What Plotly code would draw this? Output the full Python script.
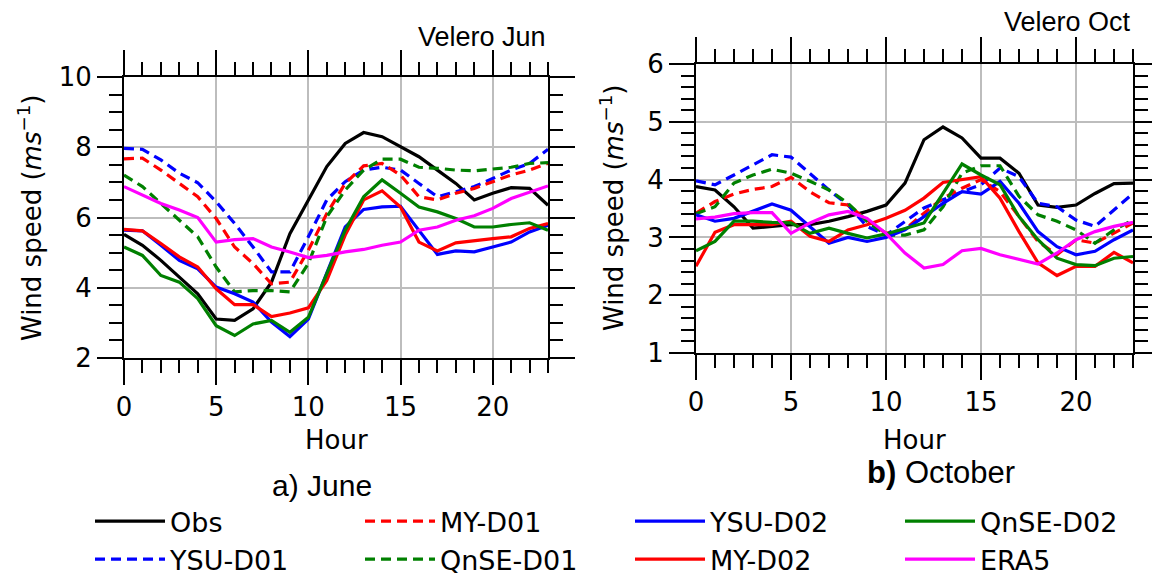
import plotly.graph_objects as go

W, H = 1152, 579
hours = list(range(24))

# ---- June (Velero Jun) ----
jun_obs = [5.52, 5.21, 4.78, 4.30, 3.83, 3.11, 3.07, 3.40, 4.16, 5.54, 6.50, 7.45,
           8.11, 8.42, 8.30, 8.02, 7.73, 7.35, 6.97, 6.50, 6.69, 6.85, 6.83, 6.35]
jun_ysu_d01 = [7.97, 7.94, 7.64, 7.26, 6.99, 6.45, 5.83, 5.16, 4.45, 4.45, 5.45, 6.50,
               7.02, 7.35, 7.43, 7.35, 6.97, 6.59, 6.73, 6.88, 7.11, 7.35, 7.54, 7.94]
jun_my_d01 = [7.67, 7.69, 7.35, 6.97, 6.59, 5.97, 5.16, 4.69, 4.11, 4.16, 5.07, 6.11,
              6.97, 7.47, 7.54, 7.21, 6.59, 6.50, 6.69, 6.83, 7.02, 7.21, 7.35, 7.54]
jun_qnse_d01 = [7.21, 6.88, 6.40, 5.92, 5.45, 4.59, 3.88, 3.92, 3.92, 3.88, 4.69, 6.02,
                6.78, 7.35, 7.66, 7.66, 7.43, 7.40, 7.35, 7.33, 7.37, 7.43, 7.54, 7.56]
jun_ysu_d02 = [5.64, 5.62, 5.21, 4.78, 4.54, 4.02, 3.83, 3.59, 3.02, 2.61, 3.11, 4.40,
               5.73, 6.23, 6.30, 6.32, 5.64, 4.95, 5.05, 5.02, 5.16, 5.30, 5.59, 5.78]
jun_my_d02 = [5.66, 5.62, 5.26, 4.88, 4.59, 3.97, 3.52, 3.52, 3.18, 3.28, 3.43, 4.21,
              5.50, 6.50, 6.76, 6.30, 5.30, 5.05, 5.28, 5.35, 5.40, 5.45, 5.69, 5.83]
jun_qnse_d02 = [5.16, 4.92, 4.35, 4.16, 3.69, 2.92, 2.64, 2.97, 3.07, 2.73, 3.16, 4.40,
                5.64, 6.59, 7.07, 6.69, 6.30, 6.16, 5.97, 5.73, 5.73, 5.80, 5.85, 5.64]
jun_era5 = [6.88, 6.64, 6.40, 6.21, 6.00, 5.30, 5.37, 5.40, 5.16, 5.02, 4.86, 4.92,
            5.02, 5.09, 5.21, 5.30, 5.64, 5.73, 5.92, 6.05, 6.26, 6.54, 6.73, 6.90]

# ---- October (Velero Oct) ----
oct_obs = [3.88, 3.82, 3.53, 3.16, 3.19, 3.22, 3.22, 3.28, 3.36, 3.45, 3.56, 3.94,
           4.69, 4.91, 4.72, 4.37, 4.37, 4.11, 3.56, 3.52, 3.56, 3.76, 3.93, 3.94]
oct_ysu_d01 = [3.98, 3.91, 4.08, 4.25, 4.43, 4.39, 4.11, 3.82, 3.56, 3.19, 3.04, 3.28,
               3.51, 3.65, 3.79, 3.91, 4.20, 4.05, 3.59, 3.53, 3.30, 3.19, 3.48, 3.76]
oct_my_d01 = [3.42, 3.62, 3.75, 3.83, 3.88, 4.04, 3.79, 3.60, 3.56, 3.30, 3.07, 3.14,
              3.42, 3.68, 3.85, 4.00, 3.79, 3.36, 2.93, 2.70, 2.96, 2.90, 3.07, 3.25]
oct_qnse_d01 = [3.41, 3.53, 3.94, 4.08, 4.18, 4.11, 3.97, 3.82, 3.59, 3.28, 3.04, 3.04,
                3.13, 3.53, 4.11, 4.24, 4.24, 3.71, 3.39, 3.28, 3.13, 2.90, 3.13, 3.30]
oct_ysu_d02 = [3.39, 3.28, 3.33, 3.45, 3.58, 3.47, 3.19, 2.90, 3.00, 2.93, 3.00, 3.13,
               3.36, 3.59, 3.79, 3.75, 3.97, 3.59, 3.10, 2.84, 2.70, 2.76, 2.96, 3.13]
oct_my_d02 = [2.50, 3.09, 3.22, 3.22, 3.22, 3.28, 3.02, 2.93, 3.13, 3.22, 3.33, 3.47,
              3.68, 3.95, 4.00, 4.05, 3.68, 3.10, 2.56, 2.34, 2.50, 2.50, 2.74, 2.56]
oct_qnse_d02 = [2.77, 2.93, 3.28, 3.28, 3.26, 3.25, 3.07, 3.16, 3.07, 2.99, 3.06, 3.16,
                3.25, 3.76, 4.27, 4.08, 3.91, 3.36, 2.96, 2.64, 2.53, 2.51, 2.64, 2.67]
oct_era5 = [3.32, 3.35, 3.41, 3.43, 3.43, 3.07, 3.25, 3.39, 3.45, 3.33, 3.07, 2.73,
            2.47, 2.53, 2.77, 2.81, 2.70, 2.62, 2.54, 2.73, 2.96, 3.10, 3.19, 3.26]

series_names = ["Obs", "YSU-D01", "MY-D01", "QnSE-D01", "YSU-D02", "MY-D02", "QnSE-D02", "ERA5"]
series_colors = ["black", "#0000ff", "#ff0000", "#008000", "#0000ff", "#ff0000", "#008000", "#ff00ff"]
series_dash = ["solid", "10px,6px", "10px,6px", "10px,6px", "solid", "solid", "solid", "solid"]
# legend rank: row-wise fill so that columns read like the reference
series_rank = [1, 5, 2, 6, 3, 7, 4, 8]
jun_data = [jun_obs, jun_ysu_d01, jun_my_d01, jun_qnse_d01, jun_ysu_d02, jun_my_d02, jun_qnse_d02, jun_era5]
oct_data = [oct_obs, oct_ysu_d01, oct_my_d01, oct_qnse_d01, oct_ysu_d02, oct_my_d02, oct_qnse_d02, oct_era5]

fig = go.Figure()
for name, col, dash, rank, yj, yo in zip(series_names, series_colors, series_dash, series_rank, jun_data, oct_data):
    fig.add_trace(go.Scatter(x=hours, y=yj, mode="lines", name=name, legendrank=rank,
                             line=dict(color=col, width=3.2, dash=dash), xaxis="x", yaxis="y"))
    fig.add_trace(go.Scatter(x=hours, y=yo, mode="lines", name=name, showlegend=False,
                             line=dict(color=col, width=3.2, dash=dash), xaxis="x2", yaxis="y2"))

def px_x(p):
    return p / W

def px_y(p):
    return 1 - p / H

tickfont = dict(family="DejaVu Sans", size=26, color="black")

def xaxis_style(domain, anchor):
    return dict(domain=domain, anchor=anchor, range=[0, 23], tickmode="linear", tick0=0, dtick=5,
                ticks="outside", ticklen=25, tickwidth=2, tickcolor="black",
                showline=True, linecolor="black", linewidth=2, mirror="allticks",
                showgrid=True, gridcolor="#bdbdbd", gridwidth=2, zeroline=False,
                tickfont=tickfont,
                minor=dict(dtick=1, tick0=0, ticks="outside", ticklen=13, tickwidth=2,
                           tickcolor="black", showgrid=False))

def yaxis_style(domain, anchor, rng, dt, mdt):
    return dict(domain=domain, anchor=anchor, range=rng, tickmode="linear", tick0=0, dtick=dt,
                ticks="outside", ticklen=25, tickwidth=2, tickcolor="black",
                showline=True, linecolor="black", linewidth=2, mirror="allticks",
                showgrid=True, gridcolor="#bdbdbd", gridwidth=2, zeroline=False,
                tickfont=tickfont,
                minor=dict(dtick=mdt, tick0=0, ticks="outside", ticklen=13, tickwidth=2,
                           tickcolor="black", showgrid=False))

fig.update_layout(
    width=W, height=H,
    margin=dict(l=0, r=0, t=0, b=0, autoexpand=False),
    paper_bgcolor="white", plot_bgcolor="white",
    xaxis=xaxis_style([px_x(124), px_x(548)], "y"),
    yaxis=yaxis_style([px_y(358), px_y(77)], "x", [2, 10], 2, 0.5),
    xaxis2=xaxis_style([px_x(696), px_x(1133)], "y2"),
    yaxis2=yaxis_style([px_y(353), px_y(64)], "x2", [1, 6], 1, 0.2),
    legend=dict(orientation="h", x=px_x(90), y=px_y(497), xanchor="left", yanchor="top",
                entrywidth=185, entrywidthmode="pixels", itemwidth=70,
                font=dict(family="DejaVu Sans", size=27, color="black"),
                bgcolor="rgba(0,0,0,0)", tracegroupgap=0),
)

ann_font = dict(family="DejaVu Sans", size=26, color="black")
lab_font = dict(family="Liberation Sans", size=27, color="black")
annotations = [
    dict(text="Velero Jun", x=px_x(548), y=px_y(37), xanchor="right", yanchor="middle", font=lab_font),
    dict(text="Velero Oct", x=px_x(1133), y=px_y(22), xanchor="right", yanchor="middle", font=lab_font),
    dict(text="Hour", x=px_x(336), y=px_y(440), xanchor="center", yanchor="middle", font=ann_font),
    dict(text="Hour", x=px_x(914), y=px_y(440), xanchor="center", yanchor="middle", font=ann_font),
    dict(text="a) June", x=px_x(322), y=px_y(485), xanchor="center", yanchor="middle",
         font=dict(family="Liberation Sans", size=30, color="black")),
    dict(text="<b>b)</b> October", x=px_x(941), y=px_y(472), xanchor="center", yanchor="middle",
         font=dict(family="Liberation Sans", size=31, color="black")),
    dict(text="Wind speed (<i>ms</i><sup>−1</sup>)", x=px_x(30), y=px_y(218), textangle=-90,
         xanchor="center", yanchor="middle", font=ann_font),
    dict(text="Wind speed (<i>ms</i><sup>−1</sup>)", x=px_x(612), y=px_y(208), textangle=-90,
         xanchor="center", yanchor="middle", font=ann_font),
]
for a in annotations:
    a.update(xref="paper", yref="paper", showarrow=False)
fig.update_layout(annotations=annotations)

fig.write_html("out.html")
